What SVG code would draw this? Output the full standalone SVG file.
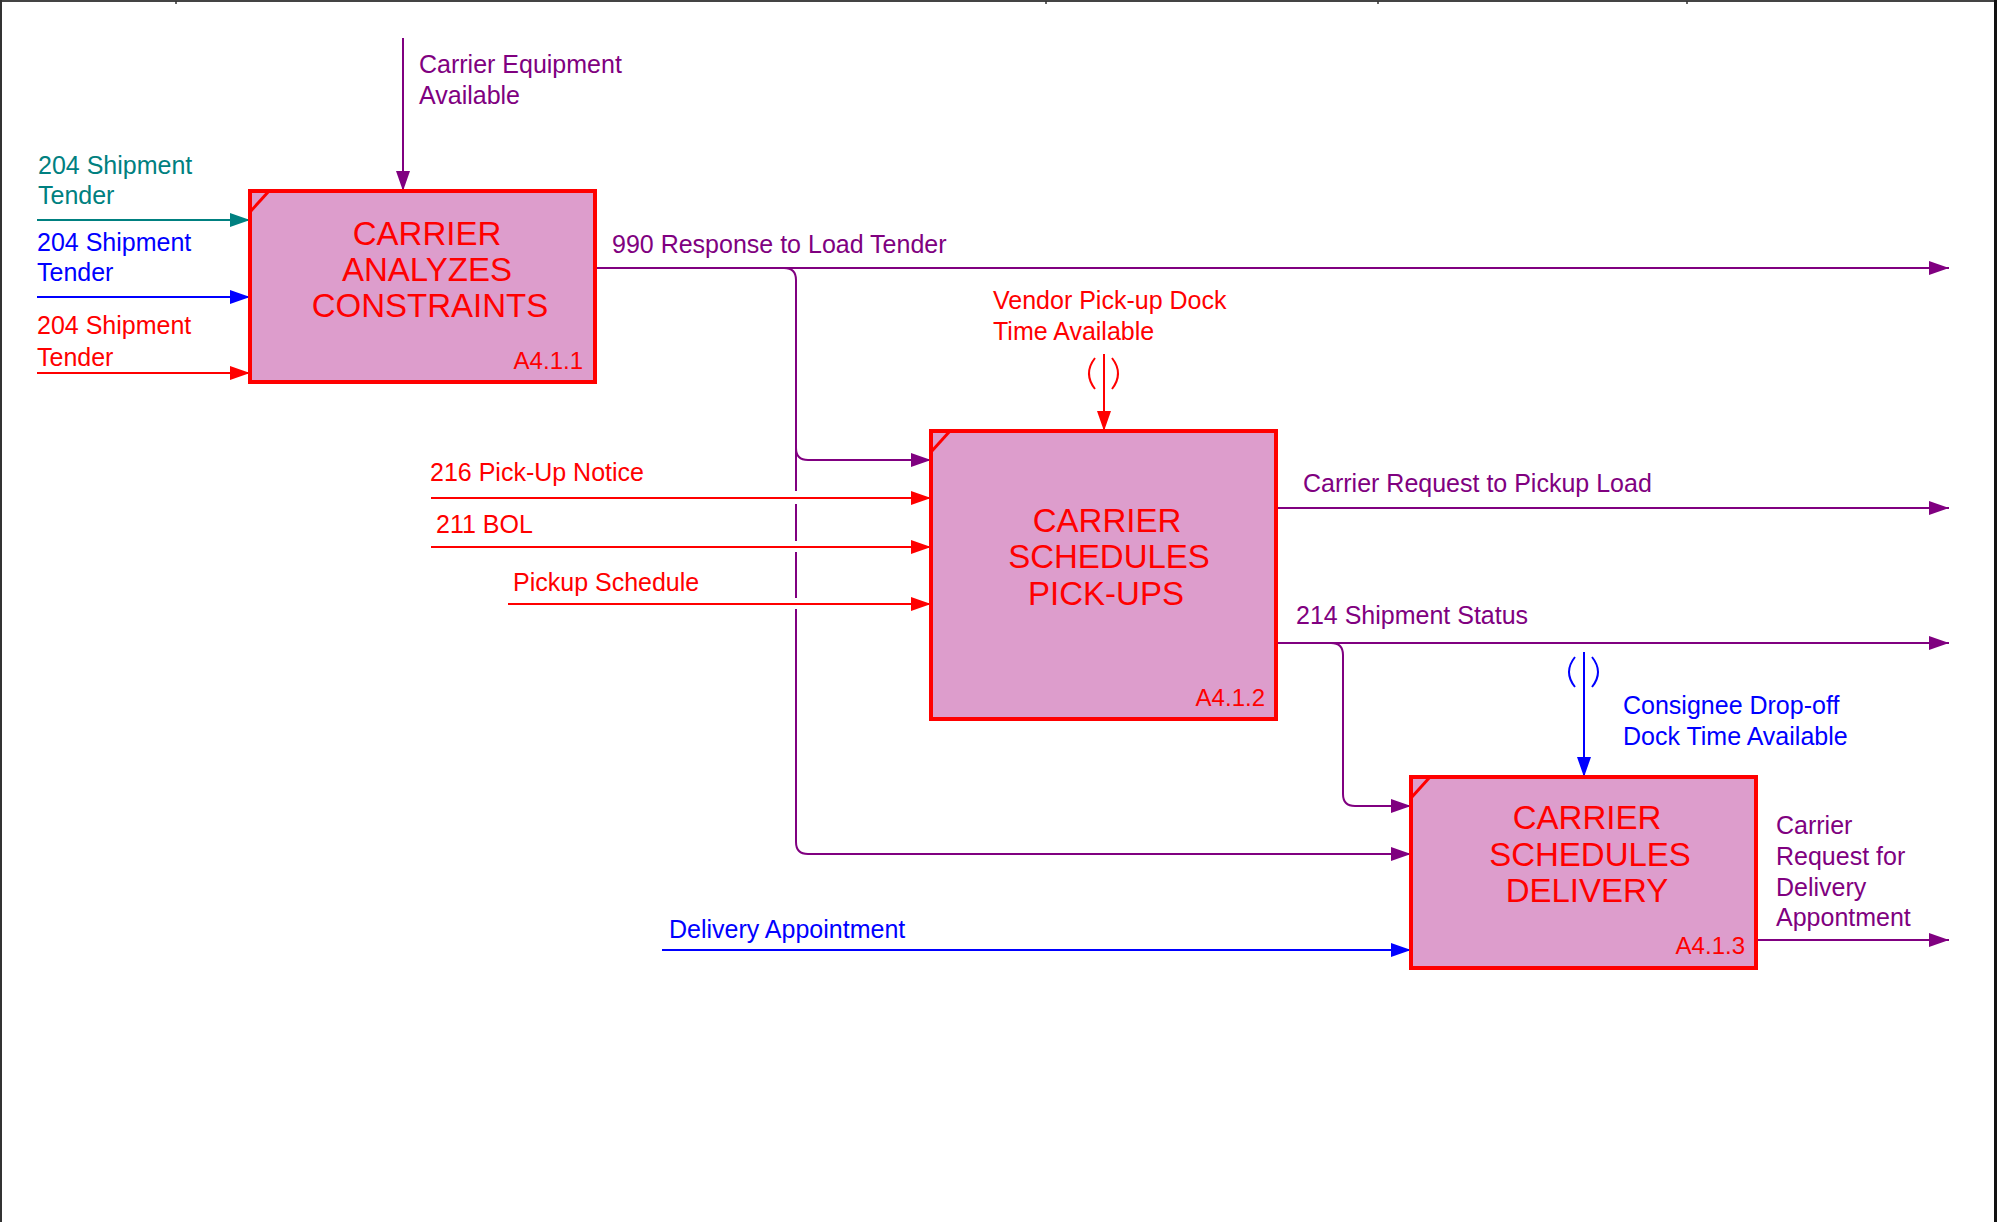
<svg xmlns="http://www.w3.org/2000/svg" width="1997" height="1222" viewBox="0 0 1997 1222">
<style>
text{font-family:"Liberation Sans",Arial,sans-serif;font-size:25px}
.t{font-size:33px;text-anchor:middle;fill:#FF0000}
.id{font-size:24px;text-anchor:end;fill:#FF0000}
.box{fill:#DD9DCC;stroke:#FF0000;stroke-width:4}
.crn{stroke:#FF0000;stroke-width:3;fill:none}
.c{fill:none;stroke-width:2}
.p{stroke:#800080}.r{stroke:#FF0000}.b{stroke:#0000FF}.g{stroke:#008080}
.fp{fill:#800080}.fr{fill:#FF0000}.fb{fill:#0000FF}.fg{fill:#008080}
</style>
<defs>
<marker id="ap" markerUnits="userSpaceOnUse" markerWidth="20" markerHeight="14" refX="20" refY="7" orient="auto"><path d="M0,0 L20,7 L0,14 z" fill="#800080"/></marker>
<marker id="ar" markerUnits="userSpaceOnUse" markerWidth="20" markerHeight="14" refX="20" refY="7" orient="auto"><path d="M0,0 L20,7 L0,14 z" fill="#FF0000"/></marker>
<marker id="ab" markerUnits="userSpaceOnUse" markerWidth="20" markerHeight="14" refX="20" refY="7" orient="auto"><path d="M0,0 L20,7 L0,14 z" fill="#0000FF"/></marker>
<marker id="ag" markerUnits="userSpaceOnUse" markerWidth="20" markerHeight="14" refX="20" refY="7" orient="auto"><path d="M0,0 L20,7 L0,14 z" fill="#008080"/></marker>
</defs>
<rect width="1997" height="1222" fill="#FFFFFF"/>
<g id="frame">
<line x1="0" y1="1" x2="1997" y2="1" stroke="#444444" stroke-width="2"/>
<line x1="1" y1="0" x2="1" y2="1222" stroke="#333333" stroke-width="2"/>
<line x1="1995.5" y1="0" x2="1995.5" y2="1222" stroke="#111111" stroke-width="3"/>
<path d="M176,1 V4 M1046,1 V4 M1378,1 V4 M1687,1 V4" stroke="#333333" stroke-width="1.5"/>
</g>
<g id="connectors">
<path class="c p" d="M403,38 V191" marker-end="url(#ap)"/>
<path class="c g" d="M37,220 H250" marker-end="url(#ag)"/>
<path class="c b" d="M37,297 H250" marker-end="url(#ab)"/>
<path class="c r" d="M37,373 H250" marker-end="url(#ar)"/>
<path class="c p" d="M595,268 H1949" marker-end="url(#ap)"/>
<path class="c p" d="M784,268 Q796,268 796,280 V448 Q796,460 808,460 H931" marker-end="url(#ap)"/>
<path class="c p" d="M796,448 V491 M796,504 V541 M796,552 V598 M796,609 V842 Q796,854 808,854 H1411" marker-end="url(#ap)"/>
<path class="c r" d="M1104,354 V431" marker-end="url(#ar)"/>
<path class="c r" d="M1095,358 Q1083,373.5 1095,389 M1112,358 Q1124,373.5 1112,389"/>
<path class="c r" d="M431,498 H931" marker-end="url(#ar)"/>
<path class="c r" d="M431,547 H931" marker-end="url(#ar)"/>
<path class="c r" d="M508,604 H931" marker-end="url(#ar)"/>
<path class="c p" d="M1276,508 H1949" marker-end="url(#ap)"/>
<path class="c p" d="M1276,643 H1949" marker-end="url(#ap)"/>
<path class="c p" d="M1331,643 Q1343,643 1343,655 V794 Q1343,806 1355,806 H1411" marker-end="url(#ap)"/>
<path class="c b" d="M1584,652 V777" marker-end="url(#ab)"/>
<path class="c b" d="M1575,657 Q1563,672 1575,687 M1592,657 Q1604,672 1592,687"/>
<path class="c b" d="M662,950 H1411" marker-end="url(#ab)"/>
<path class="c p" d="M1756,940 H1949" marker-end="url(#ap)"/>
</g>
<g id="labels">
<text class="fp" x="419" y="73">Carrier Equipment</text>
<text class="fp" x="419" y="104">Available</text>
<text class="fg" x="38" y="174">204 Shipment</text>
<text class="fg" x="38" y="204">Tender</text>
<text class="fb" x="37" y="251">204 Shipment</text>
<text class="fb" x="37" y="281">Tender</text>
<text class="fr" x="37" y="334">204 Shipment</text>
<text class="fr" x="37" y="366">Tender</text>
<text class="fp" x="612" y="253">990 Response to Load Tender</text>
<text class="fr" x="993" y="309">Vendor Pick-up Dock</text>
<text class="fr" x="993" y="340">Time Available</text>
<text class="fr" x="430" y="481">216 Pick-Up Notice</text>
<text class="fr" x="436" y="533">211 BOL</text>
<text class="fr" x="513" y="591">Pickup Schedule</text>
<text class="fp" x="1303" y="492">Carrier Request to Pickup Load</text>
<text class="fp" x="1296" y="624">214 Shipment Status</text>
<text class="fb" x="1623" y="714">Consignee Drop-off</text>
<text class="fb" x="1623" y="745">Dock Time Available</text>
<text class="fb" x="669" y="938">Delivery Appointment</text>
<text class="fp" x="1776" y="834">Carrier</text>
<text class="fp" x="1776" y="865">Request for</text>
<text class="fp" x="1776" y="896">Delivery</text>
<text class="fp" x="1776" y="926">Appontment</text>
</g>
<g id="node-a411">
<rect class="box" x="250" y="191" width="345" height="191"/>
<line class="crn" x1="250" y1="212" x2="269" y2="191"/>
<text class="t" x="427" y="245">CARRIER</text>
<text class="t" x="427" y="281">ANALYZES</text>
<text class="t" x="430" y="317">CONSTRAINTS</text>
<text class="id" x="583" y="369">A4.1.1</text>
</g>
<g id="node-a412">
<rect class="box" x="931" y="431" width="345" height="288"/>
<line class="crn" x1="931" y1="452" x2="950" y2="431"/>
<text class="t" x="1107" y="532">CARRIER</text>
<text class="t" x="1109" y="568">SCHEDULES</text>
<text class="t" x="1106" y="605">PICK-UPS</text>
<text class="id" x="1265" y="706">A4.1.2</text>
</g>
<g id="node-a413">
<rect class="box" x="1411" y="777" width="345" height="191"/>
<line class="crn" x1="1411" y1="798" x2="1430" y2="777"/>
<text class="t" x="1587" y="829">CARRIER</text>
<text class="t" x="1590" y="866">SCHEDULES</text>
<text class="t" x="1587" y="902">DELIVERY</text>
<text class="id" x="1745" y="954">A4.1.3</text>
</g>
</svg>
